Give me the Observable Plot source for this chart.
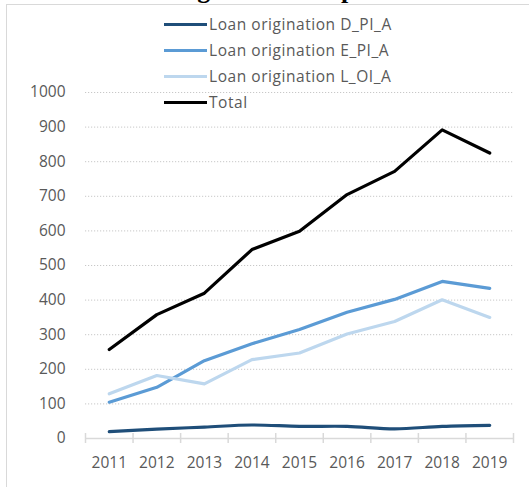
<!DOCTYPE html>
<html>
<head>
<meta charset="utf-8">
<script src="https://cdn.jsdelivr.net/npm/d3@7"></script>
<script src="https://cdn.jsdelivr.net/npm/@observablehq/plot@0.6"></script>
<style>
  html, body { margin: 0; padding: 0; background: #fff; overflow: hidden; }
  #wrap { position: relative; width: 529px; height: 487px; overflow: hidden; }
  #title { position: absolute; left: 0; width: 529px; top: -22.8px; text-align: center;
           font: bold 26px "Liberation Serif", serif; line-height: 26px; color: #000; white-space: nowrap; }
  #frame { position: absolute; left: 6px; top: 4px; width: 540px; height: 500px;
           border-left: 1px solid #d9d9d9; border-top: 1px solid #d9d9d9; background: #fff; }
  #chart { position: absolute; left: 0; top: 0; }
  #legend { position: absolute; left: 164px; top: 0; font: 15.5px "Open Sans", sans-serif; letter-spacing: 0.55px; color: #595959; }
  .row { position: absolute; left: 0; height: 22px; display: flex; align-items: center; white-space: nowrap; }
  .sw { width: 43px; height: 3px; margin-right: 2px; }
</style>
</head>
<body>
<div id="wrap">
  <div id="frame"></div>
  <div id="title">Loan origination components</div>
  <div id="chart"></div>
  <div id="legend"></div>
</div>
<script>
const years = [2011, 2012, 2013, 2014, 2015, 2016, 2017, 2018, 2019];
const seriesNames = ["Loan origination D_PI_A", "Loan origination E_PI_A", "Loan origination L_OI_A", "Total"];
const dPI = [20, 27, 33, 39, 35, 35, 28, 35, 38];
const ePI = [105, 148, 225, 274, 315, 365, 402, 454, 434];
const lOI = [129, 182, 158, 228, 247, 302, 338, 401, 350];
const total = [257, 358, 420, 546, 599, 705, 772, 892, 825];
const yTicks = [0, 100, 200, 300, 400, 500, 600, 700, 800, 900, 1000];
const colors = ["#1f4e79", "#5b9bd5", "#bdd7ee", "#000000"];

const seriesValues = [dPI, ePI, lOI, total];
const rows = [];
seriesNames.forEach((name, i) => {
  years.forEach((yr, j) => rows.push({series: name, year: yr, value: seriesValues[i][j]}));
});
const bounds = d3.range(years.length + 1).map(i => years[0] - 0.5 + i);

const font = '"Open Sans", sans-serif';
const chart = Plot.plot({
  width: 529,
  height: 487,
  marginLeft: 85,
  marginRight: 16,
  marginTop: 92,
  marginBottom: 49,
  style: {fontFamily: font, fontSize: "15.5px", color: "#595959", background: "transparent", overflow: "visible"},
  x: {domain: [bounds[0], bounds[bounds.length - 1]], label: null},
  y: {domain: [0, 1000], label: null},
  color: {domain: seriesNames, range: colors},
  marks: [
    Plot.gridY(yTicks.filter(d => d > 0), {stroke: "#c8c8c8", strokeOpacity: 1, strokeDasharray: "1.2,1.8", strokeWidth: 1}),
    Plot.ruleY([0], {stroke: "#d9d9d9", strokeWidth: 1.5}),
    Plot.ruleX(bounds, {y1: 0, y2: 0, insetTop: -5, insetBottom: -5, stroke: "#d9d9d9", strokeWidth: 1.5}),
    Plot.axisY(yTicks, {tickSize: 0, tickPadding: 20, fill: "#595959", label: null, tickFormat: d => String(d)}),
    Plot.axisX(years, {tickSize: 0, tickPadding: 18, fill: "#595959", label: null, tickFormat: d => String(d)}),
    Plot.lineY(rows.filter(r => r.series === seriesNames[0]), {x: "year", y: "value", stroke: "series", strokeWidth: 3.2, curve: "catmull-rom"}),
    Plot.lineY(rows.filter(r => r.series !== seriesNames[0] && r.series !== "Total"), {x: "year", y: "value", z: "series", stroke: "series", strokeWidth: 3.2}),
    Plot.lineY(rows.filter(r => r.series === "Total"), {x: "year", y: "value", stroke: "series", strokeWidth: 3.2})
  ]
});
document.getElementById("chart").appendChild(chart);

const legend = document.getElementById("legend");
const rowCenters = [24, 50, 76, 102];
seriesNames.forEach((name, i) => {
  const r = document.createElement("div");
  r.className = "row";
  r.style.top = (rowCenters[i] - 11) + "px";
  const sw = document.createElement("span");
  sw.className = "sw";
  sw.style.background = colors[i];
  const t = document.createElement("span");
  t.textContent = name;
  r.appendChild(sw); r.appendChild(t);
  legend.appendChild(r);
});
</script>
</body>
</html>
